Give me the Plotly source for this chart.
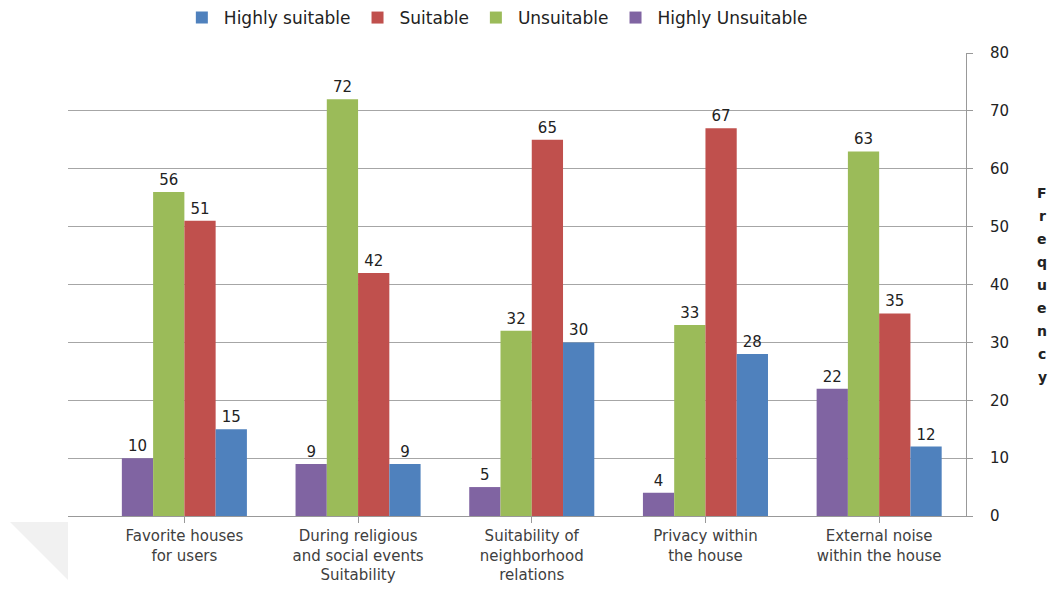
import plotly.graph_objects as go

categories = [
    "Favorite houses<br>for users",
    "During religious<br>and social events<br>Suitability",
    "Suitability of<br>neighborhood<br>relations",
    "Privacy within<br>the house",
    "External noise<br>within the house",
]
highly_unsuitable = [10, 9, 5, 4, 22]
unsuitable = [56, 72, 32, 33, 63]
suitable = [51, 42, 65, 67, 35]
highly_suitable = [15, 9, 30, 28, 12]

series = [
    ("Highly Unsuitable", highly_unsuitable, "#8064A2"),
    ("Unsuitable", unsuitable, "#9BBB59"),
    ("Suitable", suitable, "#C0504D"),
    ("Highly suitable", highly_suitable, "#4F81BD"),
]

W, H = 1052, 589
ml, mr, mt, mb = 68, 86, 53, 73

fig = go.Figure()
for name, vals, color in series:
    fig.add_trace(go.Bar(
        name=name, x=list(range(len(categories))), y=vals,
        marker=dict(color=color, line=dict(width=0)),
        text=[str(v) for v in vals], textposition="outside",
        textfont=dict(family="DejaVu Sans", size=15, color="#222222"),
        cliponaxis=False,
    ))

fig.update_layout(
    width=W, height=H,
    margin=dict(l=ml, r=mr, t=mt, b=mb, autoexpand=False),
    paper_bgcolor="white", plot_bgcolor="white",
    barmode="group", bargap=0.28, bargroupgap=0,
    showlegend=True,
    legend=dict(orientation="h", traceorder="reversed",
                x=0.477, xanchor="center", y=1.0, yanchor="top",
                yref="container",
                font=dict(family="DejaVu Sans", size=17, color="#222222"),
                itemwidth=34),
    xaxis=dict(
        range=[-0.67, 4.5],
        tickmode="array", tickvals=list(range(len(categories))),
        ticktext=categories, tickson="boundaries",
        ticks="outside", ticklen=6, tickcolor="#999999",
        showline=True, linecolor="#999999", linewidth=1,
        showgrid=False, zeroline=False,
        tickfont=dict(family="DejaVu Sans", size=15, color="#404040"),
    ),
    yaxis=dict(
        side="right", range=[0, 80], dtick=10,
        ticks="outside", ticklen=6, tickcolor="#999999",
        ticklabelstandoff=14,
        showline=True, linecolor="#999999", linewidth=1,
        showgrid=True, gridcolor="#a6a6a6", gridwidth=1,
        zeroline=False,
        tickfont=dict(family="DejaVu Sans", size=15, color="#222222"),
    ),
)

# Vertical axis title, one letter per line
title = "Frequency"
cy = 285
step = 23
for i, ch in enumerate(title):
    ypx = cy - (len(title) - 1) * step / 2 + i * step
    fig.add_annotation(
        text=ch, xref="paper", yref="paper",
        x=(1042 - ml) / (W - ml - mr), y=1 - (ypx - mt) / (H - mt - mb),
        showarrow=False, xanchor="center", yanchor="middle",
        font=dict(family="DejaVu Sans", size=14, color="#222222", weight="bold"),
    )

# faint page-shadow corner at lower left
def px(x, y):
    return (x - ml) / (W - ml - mr), 1 - (y - mt) / (H - mt - mb)

p1, p2, p3 = px(10, 522), px(68, 522), px(68, 580)
fig.add_shape(type="path", xref="paper", yref="paper",
              path=f"M {p1[0]} {p1[1]} L {p2[0]} {p2[1]} L {p3[0]} {p3[1]} Z",
              fillcolor="#f1f1f1", line=dict(width=0), layer="below")

fig.write_html("out.html")
